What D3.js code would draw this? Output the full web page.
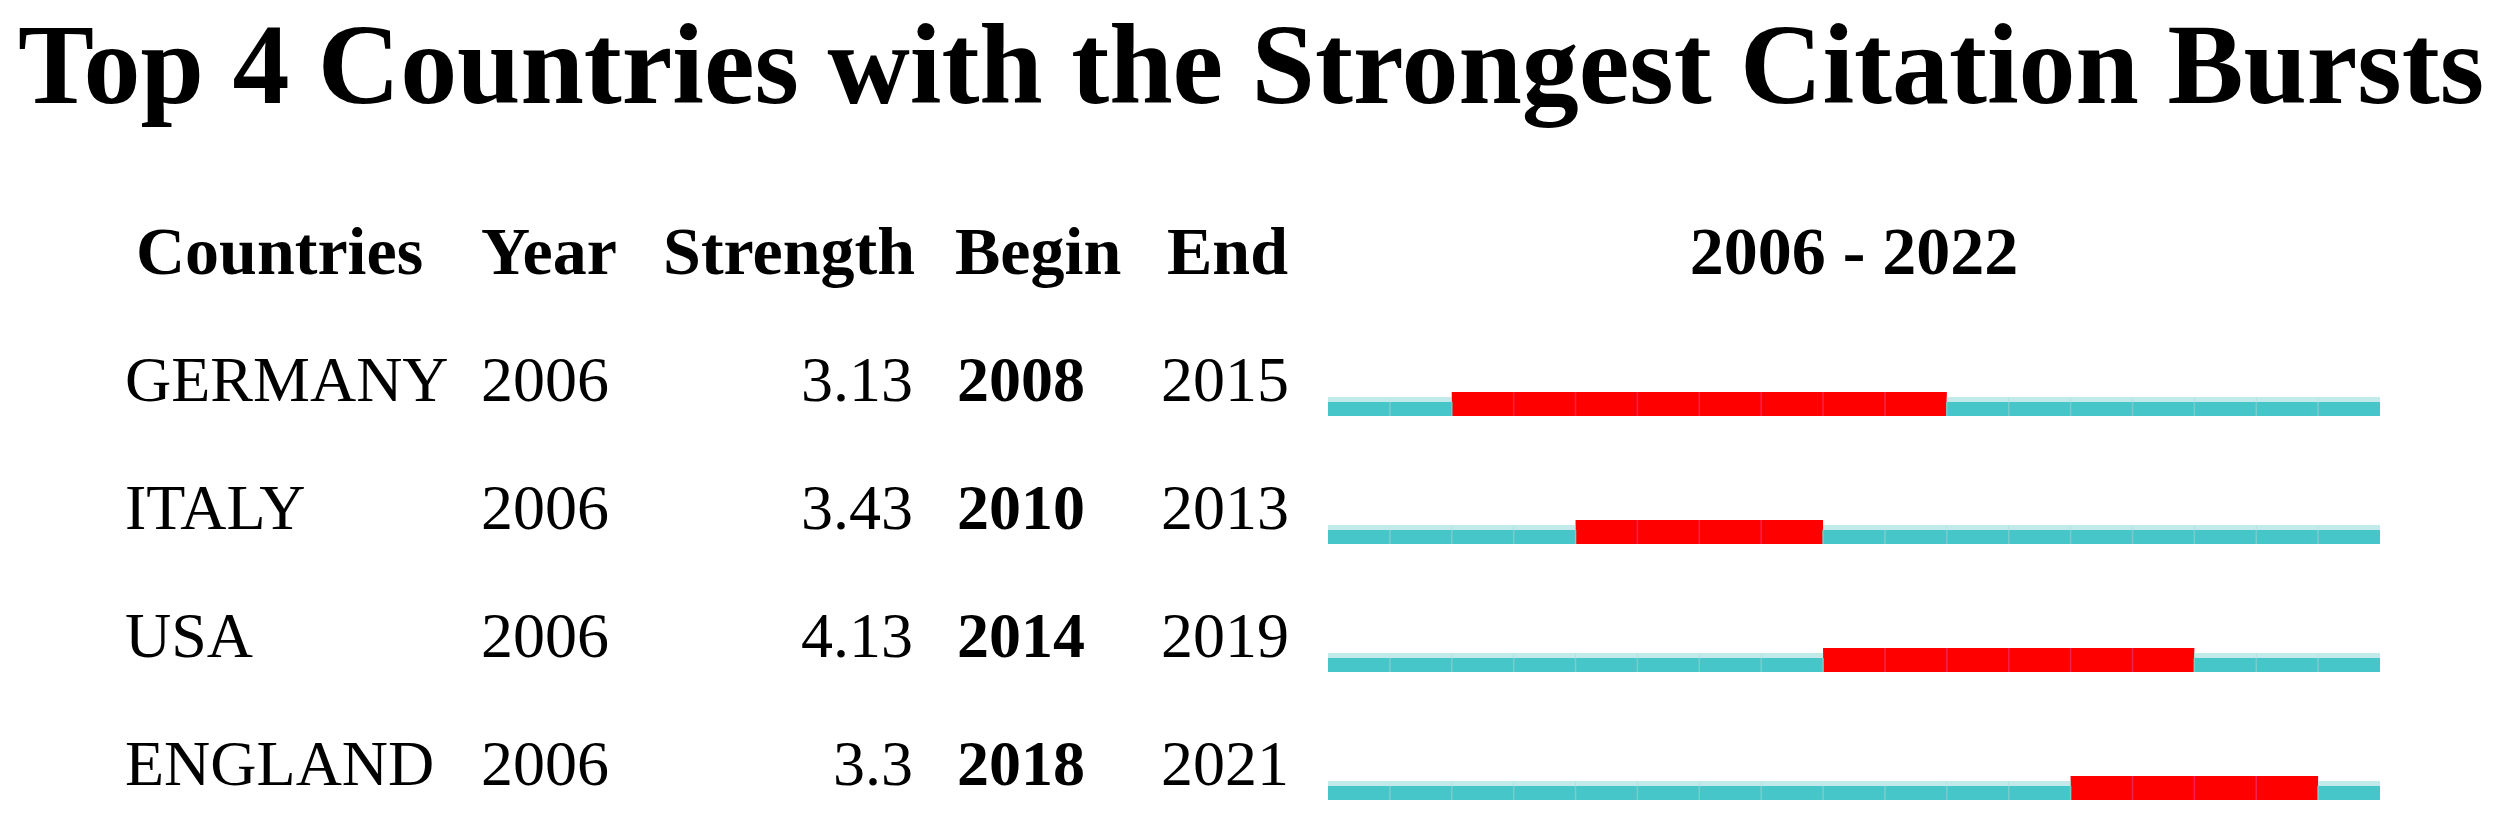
<!DOCTYPE html>
<html>
<head>
<meta charset="utf-8">
<script src="https://cdn.jsdelivr.net/npm/d3@7"></script>
<style>
    body { margin: 0; background: #fff; }
    svg { display: block; }
    text { font-family: "Liberation Serif", "Times New Roman", serif; fill: #000; }
    .title { font-weight: bold; font-size: 114px; }
    .head { font-weight: bold; font-size: 68px; }
    .cell { font-size: 64px; }
    .begin { font-weight: bold; }
</style>
</head>
<body>
<svg width="2501" height="838"></svg>
<script>
var countries = ["GERMANY", "ITALY", "USA", "ENGLAND"];
var years = [2006, 2006, 2006, 2006];
var strengths = [3.13, 3.43, 4.13, 3.3];
var begins = [2008, 2010, 2014, 2018];
var ends = [2015, 2013, 2019, 2021];
var firstYear = 2006,
    lastYear = 2022;
var headers = ["Countries", "Year", "Strength", "Begin", "End"];

var svg = d3.select("svg"),
    width = +svg.attr("width"),
    height = +svg.attr("height");

var rows = countries.map(function (c, i) {
    return {country: c, year: years[i], strength: strengths[i], begin: begins[i], end: ends[i]};
});

var x = d3.scaleLinear()
    .domain([firstYear, lastYear + 1])
    .range([1328, 2380]);

var y = d3.scalePoint()
    .domain(countries)
    .range([401, 785]);

var allYears = d3.range(firstYear, lastYear + 1);

svg.append("text")
    .attr("class", "title")
    .attr("x", 1251)
    .attr("y", 103)
    .attr("text-anchor", "middle")
    .attr("textLength", 2466)
    .attr("lengthAdjust", "spacingAndGlyphs")
    .text("Top 4 Countries with the Strongest Citation Bursts");

// column headers
var headPos = [
    {x: 136, anchor: "start"},
    {x: 481, anchor: "start"},
    {x: 915, anchor: "end"},
    {x: 955, anchor: "start"},
    {x: 1167, anchor: "start"}
];

svg.append("g")
    .selectAll("text")
    .data(headers)
    .enter().append("text")
    .attr("class", "head")
    .attr("x", function (d, i) { return headPos[i].x; })
    .attr("y", 274)
    .attr("text-anchor", function (d, i) { return headPos[i].anchor; })
    .text(function (d) { return d; });

svg.append("text")
    .attr("class", "head")
    .attr("x", (x.range()[0] + x.range()[1]) / 2)
    .attr("y", 274)
    .attr("text-anchor", "middle")
    .text(firstYear + " - " + lastYear);

var row = svg.append("g")
    .selectAll("g")
    .data(rows)
    .enter().append("g")
    .attr("transform", function (d) { return "translate(0," + y(d.country) + ")"; });

row.append("text").attr("class", "cell")
    .attr("x", 125)
    .text(function (d) { return d.country; });

row.append("text").attr("class", "cell")
    .attr("x", 481)
    .text(function (d) { return d.year; });

row.append("text").attr("class", "cell")
    .attr("x", 913)
    .attr("text-anchor", "end")
    .text(function (d) { return String(d.strength); });

row.append("text").attr("class", "cell begin")
    .attr("x", 957)
    .text(function (d) { return d.begin; });

row.append("text").attr("class", "cell")
    .attr("x", 1161)
    .text(function (d) { return d.end; });

// timeline cells, one per year
row.each(function (r) {
    var g = d3.select(this);
    var cells = g.selectAll("rect.yr")
        .data(allYears)
        .enter();

    cells.append("rect")
        .attr("class", "yr")
        .attr("x", function (d) { return x(d); })
        .attr("width", function (d) { return x(d + 1) - x(d); })
        .attr("y", function (d) { return (d >= r.begin && d <= r.end) ? -9 : -4; })
        .attr("height", function (d) { return (d >= r.begin && d <= r.end) ? 24 : 19; })
        .attr("fill", function (d) { return (d >= r.begin && d <= r.end) ? "#ff0000" : "#46c6c8"; });

    // lighter band on top of the cyan cells
    g.selectAll("rect.band")
        .data(allYears.filter(function (d) { return d < r.begin || d > r.end; }))
        .enter().append("rect")
        .attr("class", "band")
        .attr("x", function (d) { return x(d); })
        .attr("width", function (d) { return x(d + 1) - x(d); })
        .attr("y", -4)
        .attr("height", 5)
        .attr("fill", "#c2eaea");

    // thin separators between years
    g.selectAll("line.sep")
        .data(allYears.slice(1))
        .enter().append("line")
        .attr("class", "sep")
        .attr("x1", function (d) { return x(d); })
        .attr("x2", function (d) { return x(d); })
        .attr("y1", function (d) { return (d > r.begin && d <= r.end) ? -9 : 1; })
        .attr("y2", 15)
        .attr("stroke", function (d) { return (d > r.begin && d <= r.end) ? "#f5204a" : "#78cccc"; })
        .attr("stroke-width", 1.5);
});
</script>
</body>
</html>
